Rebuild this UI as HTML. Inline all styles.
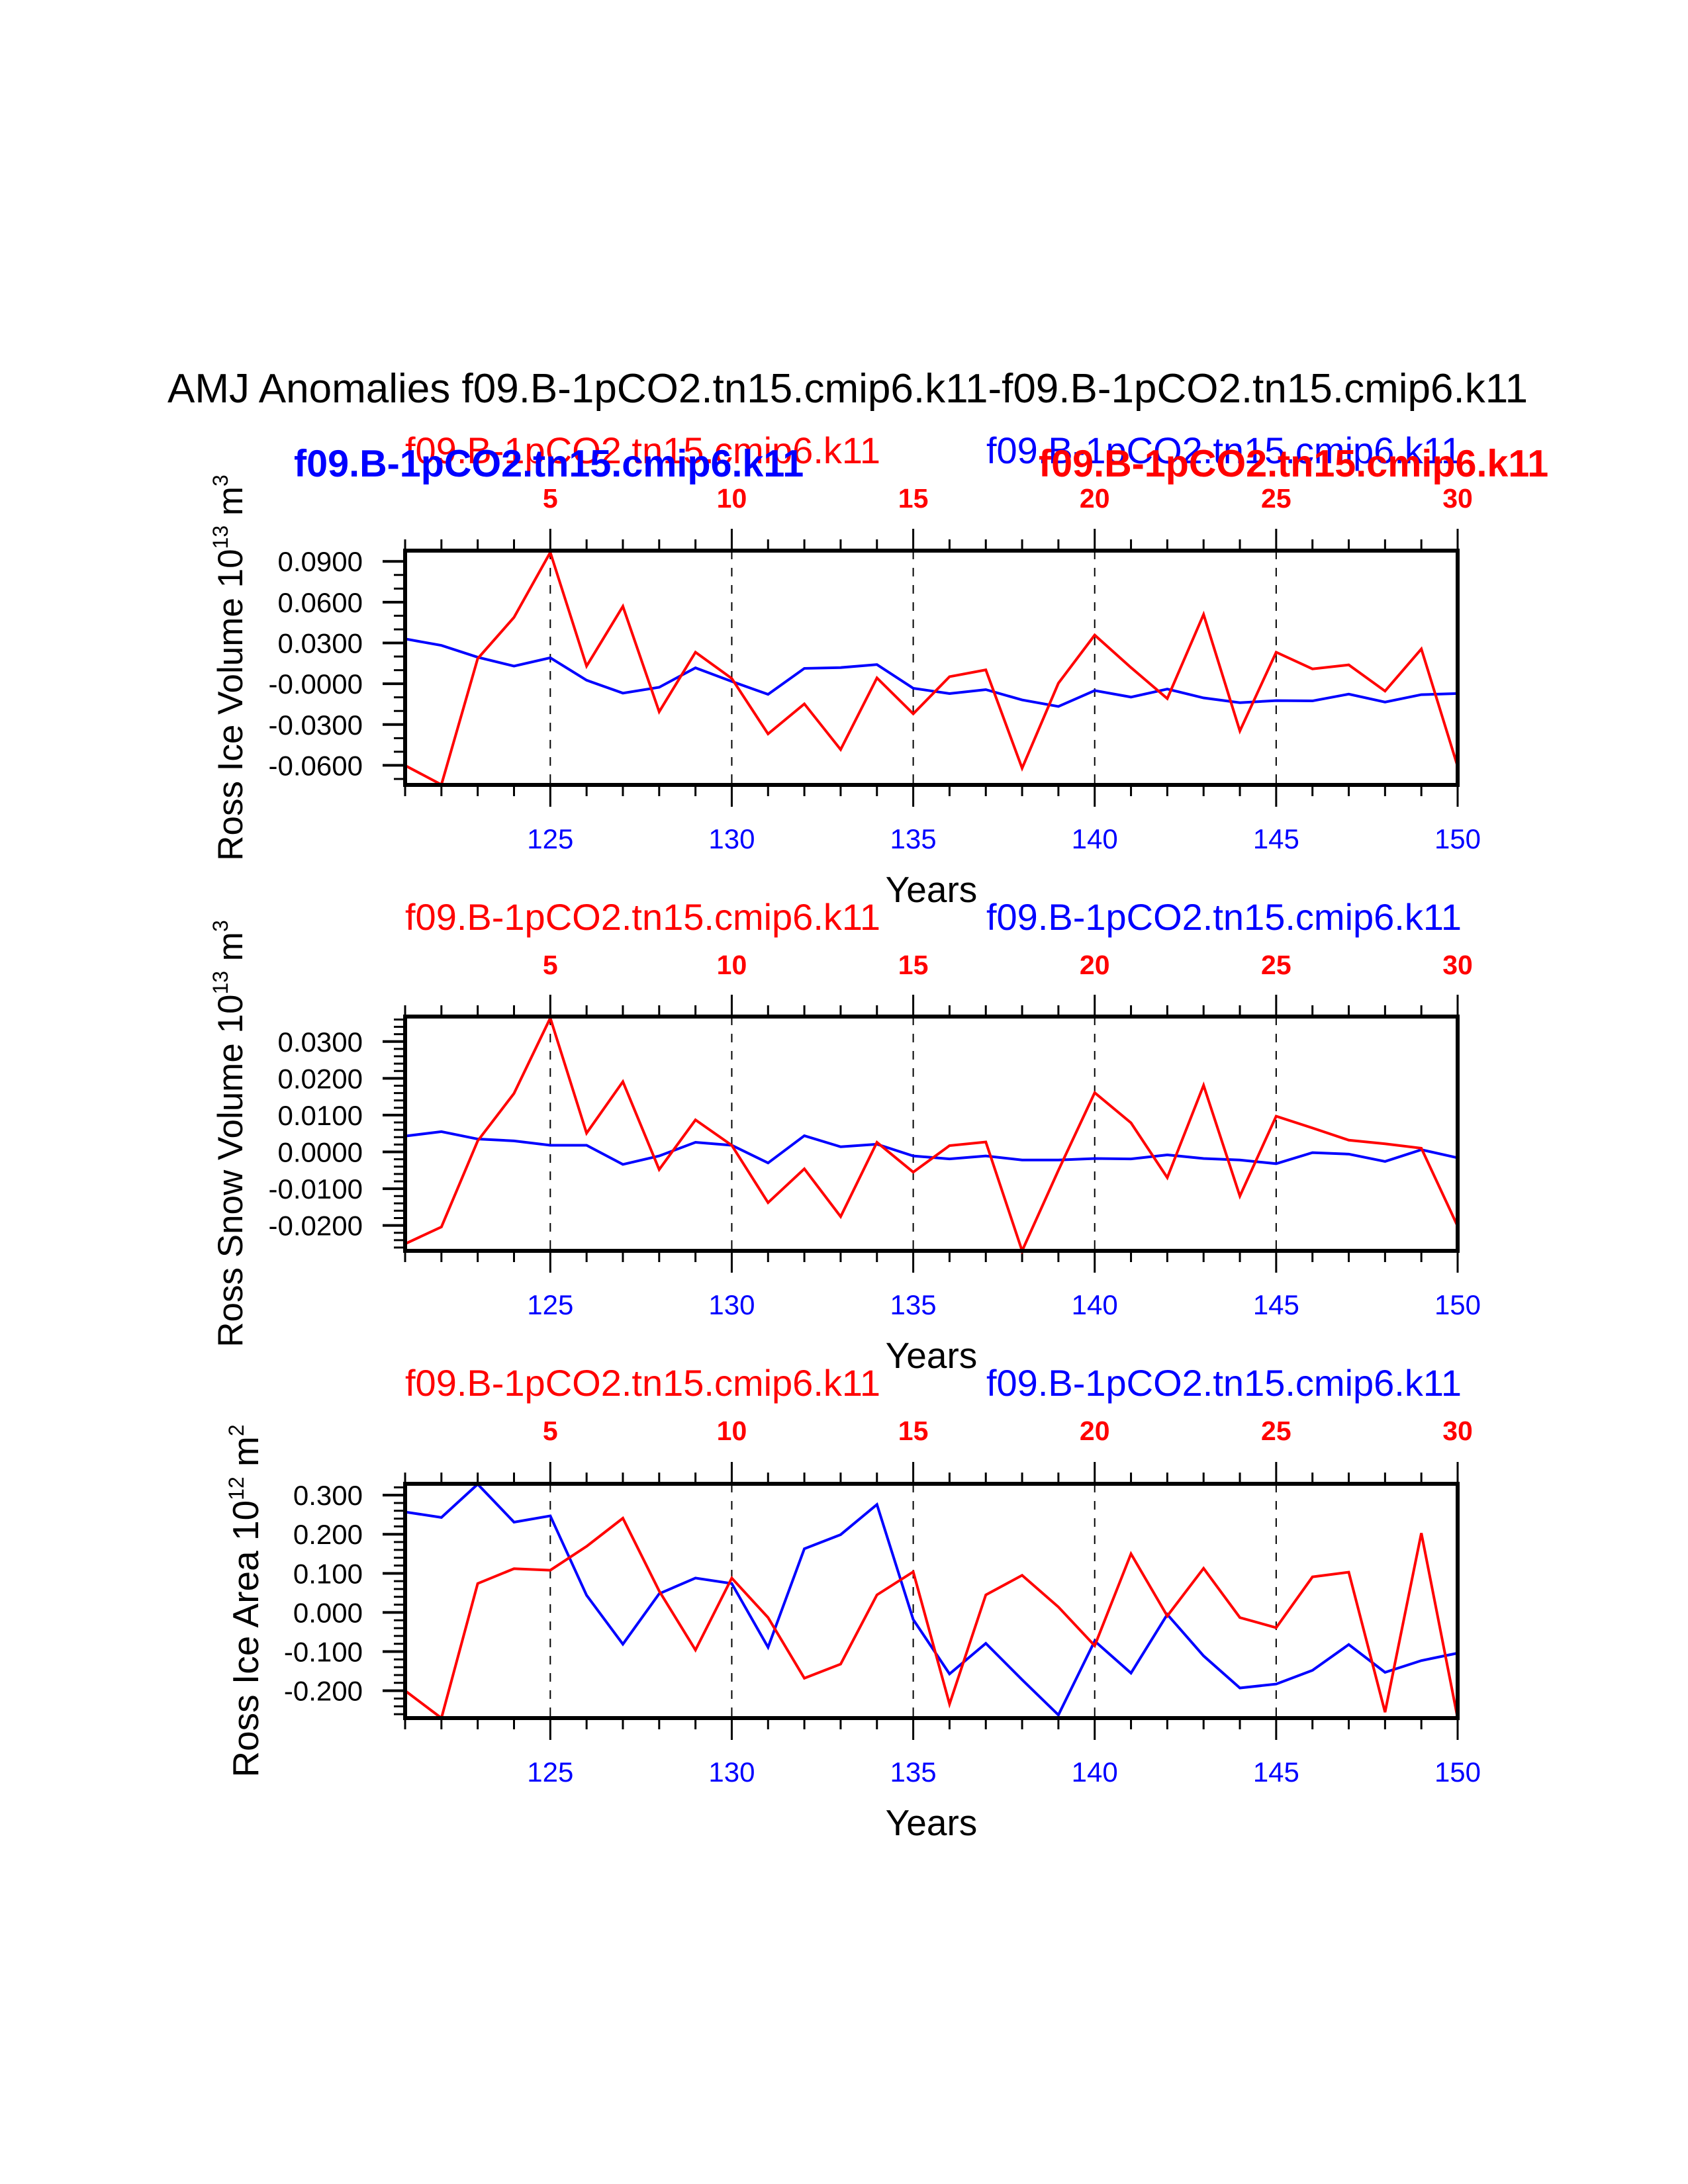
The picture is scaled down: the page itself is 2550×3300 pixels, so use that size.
<!DOCTYPE html>
<html><head><meta charset="utf-8"><style>
html,body{margin:0;padding:0;background:#fff;}
svg{display:block;font-family:"Liberation Sans",Arial,sans-serif;}
</style></head><body>
<svg id="chart" width="2550" height="3300" viewBox="0 0 2550 3300" xmlns="http://www.w3.org/2000/svg">
<rect width="2550" height="3300" fill="#fff"/>
<text x="253" y="608" font-size="62">AMJ Anomalies f09.B-1pCO2.tn15.cmip6.k11-f09.B-1pCO2.tn15.cmip6.k11</text>
</svg>
<script>
const years = [121,122,123,124,125,126,127,128,129,130,131,132,133,134,135,136,137,138,139,140,141,142,143,144,145,146,147,148,149,150];
const iceVolRed = [-0.0601,-0.0742,0.0185,0.0488,0.0966,0.013,0.0569,-0.0206,0.0232,0.0039,-0.0369,-0.0148,-0.0484,0.0043,-0.0221,0.0052,0.0102,-0.0621,0.0004,0.0358,0.0119,-0.0109,0.051,-0.0347,0.0232,0.0109,0.0139,-0.0054,0.0256,-0.0608];
const iceVolBlue = [0.033,0.0282,0.0195,0.013,0.0191,0.0026,-0.0069,-0.0026,0.0117,0.0017,-0.0078,0.0113,0.0119,0.0141,-0.0033,-0.0072,-0.0043,-0.0119,-0.0167,-0.005,-0.0098,-0.0039,-0.0104,-0.0139,-0.0124,-0.0126,-0.0076,-0.0135,-0.008,-0.0072];
const snowRed = [-0.025,-0.0204,0.003,0.0159,0.0364,0.0051,0.0191,-0.0048,0.0087,0.0018,-0.0138,-0.0046,-0.0176,0.0026,-0.0055,0.0017,0.0027,-0.0269,-0.005,0.0161,0.0079,-0.007,0.0181,-0.012,0.0097,0.0065,0.0032,0.0022,0.001,-0.0202];
const snowBlue = [0.0043,0.0055,0.0035,0.003,0.0018,0.0018,-0.0034,-0.0011,0.0026,0.0018,-0.003,0.0044,0.0014,0.0021,-0.0011,-0.0019,-0.0011,-0.0022,-0.0022,-0.0018,-0.0019,-0.0008,-0.0018,-0.0022,-0.0032,-0.0002,-0.0006,-0.0026,0.0006,-0.0016];
const areaRed = [-0.2,-0.27,0.074,0.112,0.108,0.169,0.241,0.055,-0.096,0.088,-0.013,-0.168,-0.132,0.045,0.104,-0.234,0.045,0.095,0.014,-0.085,0.15,-0.009,0.113,-0.013,-0.039,0.091,0.103,-0.255,0.203,-0.27];
const areaBlue = [0.257,0.243,0.328,0.231,0.247,0.044,-0.081,0.048,0.088,0.074,-0.089,0.163,0.199,0.276,-0.018,-0.157,-0.079,-0.172,-0.262,-0.073,-0.155,-0.005,-0.111,-0.193,-0.183,-0.148,-0.082,-0.153,-0.123,-0.104];
const volTicks = [0.09,0.06,0.03,0,-0.03,-0.06];
const volTickLabels = ["0.0900","0.0600","0.0300","-0.0000","-0.0300","-0.0600"];
const snowTicks = [0.03,0.02,0.01,0,-0.01,-0.02];
const snowTickLabels = ["0.0300","0.0200","0.0100","0.0000","-0.0100","-0.0200"];
const areaTicks = [0.3,0.2,0.1,0,-0.1,-0.2];
const areaTickLabels = ["0.300","0.200","0.100","0.000","-0.100","-0.200"];
const bottomTicks = [125,130,135,140,145,150];
const topTickLabels = ["5","10","15","20","25","30"];

const NS="http://www.w3.org/2000/svg";
const svg=document.getElementById('chart');
function mk(tag,attrs,parent){const e=document.createElementNS(NS,tag);for(const k in attrs)e.setAttribute(k,attrs[k]);(parent||svg).appendChild(e);return e;}

const X0=612,X1=2202;
function xs(y){return X0+(y-121)/(150-121)*(X1-X0);}

function panel(cfg){
  const g=mk('g',{});
  
  
  const top=cfg.top,bot=cfg.bot;
  const ys=v=>top+(cfg.ymax-v)/(cfg.ymax-cfg.ymin)*(bot-top);
  bottomTicks.slice(0,5).forEach(t=>{
    const l=mk('line',{x1:xs(t),x2:xs(t),y1:top,y2:bot,stroke:'#000','stroke-width':2,'stroke-dasharray':'13,13'},g);
    
    
  });
  years.forEach(y=>{
    const major=(y%5===0);
    const len=major?33:17;
    mk('line',{x1:xs(y),x2:xs(y),y1:top,y2:top-len,stroke:'#000','stroke-width':3},g);
    mk('line',{x1:xs(y),x2:xs(y),y1:bot,y2:bot+len,stroke:'#000','stroke-width':3},g);
  });
  bottomTicks.forEach((t,i)=>{
    const bl=mk('text',{x:xs(t),y:bot+96,'font-size':42,fill:'#0000ff','text-anchor':'middle'},g);
    bl.textContent=String(t);
    
    
    const tl=mk('text',{x:xs(t),y:cfg.topNumY,'font-size':41,'font-weight':'bold',fill:'#ff0000','text-anchor':'middle'},g);
    tl.textContent=topTickLabels[i];
    
    
  });
  for(let v=Math.ceil(cfg.ymin/cfg.minor-1e-6)*cfg.minor; v<=cfg.ymax+1e-9; v+=cfg.minor){
    mk('line',{x1:X0,x2:X0-17,y1:ys(v),y2:ys(v),stroke:'#000','stroke-width':3},g);
  }
  cfg.ticks.forEach((t,i)=>{
    mk('line',{x1:X0,x2:X0-34,y1:ys(t),y2:ys(t),stroke:'#000','stroke-width':4},g);
    const tl=mk('text',{x:548,y:ys(t)+15,'font-size':42,'text-anchor':'end'},g);
    tl.textContent=cfg.labels[i];
    
    
  });
  const mkLine=(arr,color,nm)=>{
    const p=mk('polyline',{points:arr.map((v,i)=>xs(years[i])+','+ys(v)).join(' '),fill:'none',stroke:color,'stroke-width':4,'stroke-linejoin':'miter'},g);
    
    
  };
  mkLine(cfg.blue,'#0000ff','series-blue');
  mkLine(cfg.red,'#ff0000','series-red');
  const fr=mk('rect',{x:X0,y:top,width:X1-X0,height:bot-top,fill:'none',stroke:'#000','stroke-width':6},g);
  
  
  const rl=mk('text',{x:X0,y:cfg.labY,'font-size':56,fill:'#ff0000'},g);
  rl.textContent='f09.B-1pCO2.tn15.cmip6.k11';
  
  
  const bl=mk('text',{x:X1+6,y:cfg.labY,'font-size':56,fill:'#0000ff','text-anchor':'end'},g);
  bl.textContent='f09.B-1pCO2.tn15.cmip6.k11';
  
  
  const xt=mk('text',{x:(X0+X1)/2,y:bot+177,'font-size':55,'text-anchor':'middle'},g);
  xt.textContent='Years';
  
  
  const yt=mk('text',{transform:`translate(${cfg.ytX},${(top+bot)/2}) rotate(-90)`,'font-size':cfg.ytSize,'text-anchor':'middle'},g);
  yt.innerHTML=cfg.ytitle;
  
  
}

panel({name:'ice-volume-panel',top:832,bot:1186,ymax:0.0979,ymin:-0.0744,minor:0.01,ticks:volTicks,labels:volTickLabels,red:iceVolRed,blue:iceVolBlue,topNumY:767,labY:700,ytX:366,ytSize:53,
  ytitle:'Ross Ice Volume 10<tspan dy="-22" font-size="32">13</tspan><tspan dy="22"> m</tspan><tspan dy="-22" font-size="32">3</tspan>'});
panel({name:'snow-volume-panel',top:1536,bot:1890,ymax:0.0368,ymin:-0.0269,minor:0.002,ticks:snowTicks,labels:snowTickLabels,red:snowRed,blue:snowBlue,topNumY:1472,labY:1405,ytX:366,ytSize:53,
  ytitle:'Ross Snow Volume 10<tspan dy="-22" font-size="32">13</tspan><tspan dy="22"> m</tspan><tspan dy="-22" font-size="32">3</tspan>'});
panel({name:'ice-area-panel',top:2242,bot:2596,ymax:0.329,ymin:-0.270,minor:0.02,ticks:areaTicks,labels:areaTickLabels,red:areaRed,blue:areaBlue,topNumY:2176,labY:2109,ytX:390,ytSize:55,
  ytitle:'Ross Ice Area 10<tspan dy="-22" font-size="32">12</tspan><tspan dy="22"> m</tspan><tspan dy="-22" font-size="32">2</tspan>'});

const b1=mk('text',{x:444,y:720,'font-size':57.5,'font-weight':'bold',fill:'#0000ff'});
b1.textContent='f09.B-1pCO2.tn15.cmip6.k11';


const r1=mk('text',{x:1569,y:720,'font-size':57.5,'font-weight':'bold',fill:'#ff0000'});
r1.textContent='f09.B-1pCO2.tn15.cmip6.k11';


</script>
</body></html>
